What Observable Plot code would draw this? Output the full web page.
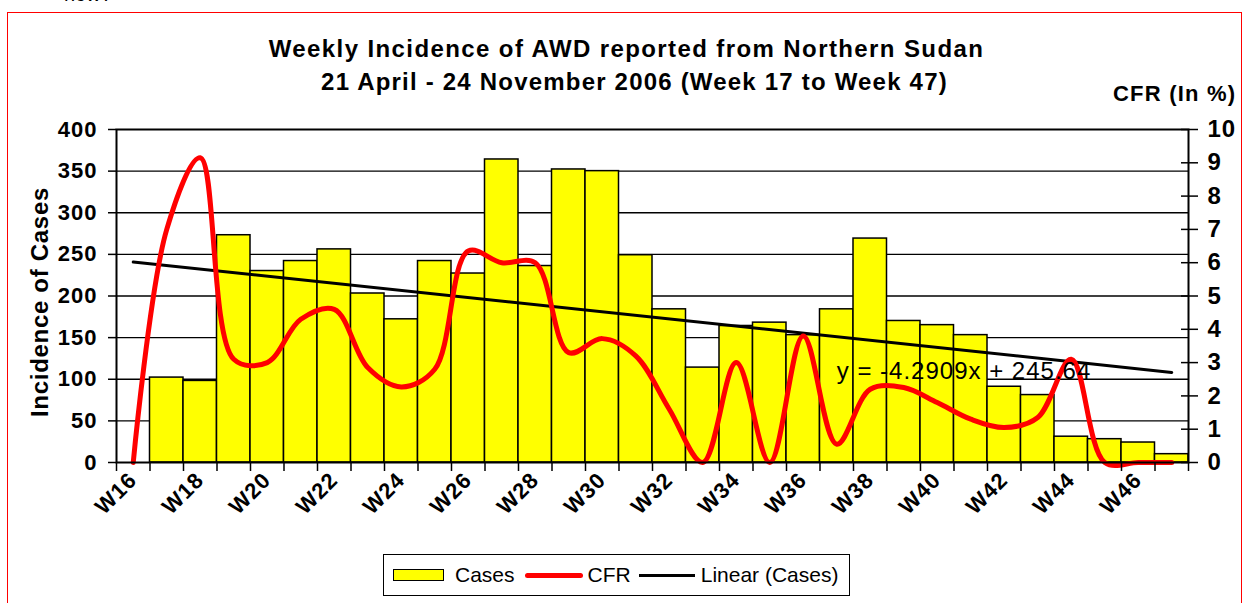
<!DOCTYPE html>
<html>
<head>
<meta charset="utf-8">
<script src="https://cdn.jsdelivr.net/npm/d3@7"></script>
<script src="https://cdn.jsdelivr.net/npm/@observablehq/plot@0.6"></script>
<style>
  html, body { margin: 0; padding: 0; background: #fff; }
  #page { position: relative; width: 1249px; height: 603px; overflow: hidden;
          font-family: "Liberation Sans", Arial, sans-serif; color: #000; }
  #frame { position: absolute; left: 7px; top: 12px; width: 1235px; height: 620px;
           border: 1.6px solid #ff0000; box-sizing: border-box; }
  #cut { position: absolute; left: 64px; top: -16px; font-size: 20px; line-height: 20px; }
  .title { position: absolute; left: 2px; width: 1249px; text-align: center; font-weight: bold;
           font-size: 24px; line-height: 24px; letter-spacing: 1.4px; white-space: nowrap; }
  #t1 { top: 37px; }
  #t2 { top: 70px; left: 10px; letter-spacing: 1.2px; }
  #cfrlabel { position: absolute; left: 1113px; top: 83px; font-weight: bold; font-size: 22px;
              line-height: 22px; letter-spacing: 1.2px; white-space: nowrap; }
  #ytitle { position: absolute; left: -110px; top: 290px; width: 300px; height: 24px; line-height: 24px;
            text-align: center; font-weight: bold; font-size: 24px; letter-spacing: 0.7px; white-space: nowrap;
            transform: rotate(-90deg); transform-origin: 150px 12px; }
  #chart { position: absolute; left: 0; top: 100px; }
  #chart svg text { letter-spacing: 1px; }
  #legend { position: absolute; left: 383px; top: 554px; width: 467px; height: 42px;
            box-sizing: border-box; border: 1.5px solid #000; display: flex; align-items: center;
            font-size: 21px; padding-left: 9px; white-space: nowrap; }
  .sw-bar { width: 51px; height: 12px; background: #ffff00; border: 1.5px solid #000; box-sizing: border-box; margin-right: 11px; }
  .sw-red { width: 58px; height: 5px; background: #ff0000; border-radius: 3px; margin: 0 5px 0 10px; }
  .sw-blk { width: 56px; height: 3px; background: #000; margin: 0 6px 0 8px; }
</style>
</head>
<body>
<div id="page">
  <div id="cut">now?</div>
  <div id="frame"></div>
  <div class="title" id="t1">Weekly Incidence of AWD reported from Northern Sudan</div>
  <div class="title" id="t2">21 April - 24 November 2006 (Week 17 to Week 47)</div>
  <div id="cfrlabel">CFR (In %)</div>
  <div id="chart"></div>
  <div id="ytitle"></div>
  <div id="legend">
    <div class="sw-bar"></div><span>Cases</span>
    <div class="sw-red"></div><span>CFR</span>
    <div class="sw-blk"></div><span>Linear (Cases)</span>
  </div>
</div>
<script>
// ---- data ----
const weeks = ["W16","W17","W18","W19","W20","W21","W22","W23","W24","W25","W26","W27","W28","W29","W30","W31",
               "W32","W33","W34","W35","W36","W37","W38","W39","W40","W41","W42","W43","W44","W45","W46","W47"];
const cases = [0, 102, 98, 273, 230, 242, 256, 203, 172, 242, 227, 364, 236, 352, 350, 249,
               184, 114, 164, 168, 153, 184, 269, 170, 165, 153, 91, 81, 31, 28, 24, 10];
const cfr   = [0, 7.0, 9.15, 3.1, 3.0, 4.3, 4.6, 2.85, 2.27, 2.8, 6.35, 6.0, 6.0, 3.3, 3.72, 3.2,
               1.6, 0.0, 3.0, 0.0, 3.8, 0.55, 2.2, 2.25, 1.8, 1.3, 1.05, 1.35, 3.1, 0.0, 0.0, 0.0];
const leftTicks  = [0, 50, 100, 150, 200, 250, 300, 350, 400];
const rightTicks = [0, 1, 2, 3, 4, 5, 6, 7, 8, 9, 10];
const labelWeeks = ["W16","W18","W20","W22","W24","W26","W28","W30","W32","W34","W36","W38","W40","W42","W44","W46"];
const equation = [{text: "y = -4.2909x + 245.64", week: 21.5, value: 110}];
const yTitle = "Incidence of Cases";

// right axis (CFR %) is mapped onto the left (cases) scale: 10% <-> 400 cases
const cfrScale = 400 / 10;

const rows = weeks.map((w, i) => ({week: w, i, pos: i + 0.5, cases: cases[i], cfr: cfr[i]}));
const font = {fontFamily: "Liberation Sans, Arial, sans-serif"};

document.getElementById("ytitle").textContent = yTitle;

const chart = Plot.plot({
  width: 1249,
  height: 450,
  marginLeft: 116,
  marginRight: 61,
  marginTop: 29,
  marginBottom: 88,
  x: {type: "linear", domain: [0, weeks.length]},
  y: {domain: [0, 400]},
  style: {fontFamily: "Liberation Sans, Arial, sans-serif", color: "#000", background: "transparent", overflow: "visible"},
  marks: [
    Plot.ruleY(leftTicks.filter(v => v > 0 && v < 400), {stroke: "#000", strokeWidth: 1.3}),
    Plot.rectY(rows.filter(d => d.cases > 0), {x1: "i", x2: d => d.i + 1, y: "cases", fill: "#ffff00", stroke: "#000", strokeWidth: 1.5}),
    Plot.linearRegressionY(rows, {x: "pos", y: "cases", stroke: "#000", strokeWidth: 3, ci: 0}),
    Plot.line(rows, {x: "pos", y: d => d.cfr * cfrScale, stroke: "#ff0000", strokeWidth: 5, curve: "catmull-rom", strokeLinecap: "round"}),
    Plot.frame({stroke: "#000", strokeWidth: 2}),
    Plot.text(equation, {x: "week", y: "value", text: "text", textAnchor: "start", fontSize: 24, ...font}),
    // left axis
    Plot.axisY({anchor: "left", ticks: leftTicks, tickSize: 8, tickPadding: 11, tickFormat: d => String(d),
                fontSize: 22, fontWeight: "bold", label: null, stroke: "#000", strokeWidth: 1.5}),
    // right axis (CFR)
    Plot.axisY({anchor: "right", ticks: rightTicks.map(v => v * cfrScale), tickSize: 17, dx: -8, tickPadding: 10,
                tickFormat: d => String(d / cfrScale), fontSize: 24, fontWeight: "bold", label: null,
                stroke: "#000", strokeWidth: 1.5, textAnchor: "start"}),
    // x boundary ticks
    Plot.axisX({ticks: d3.range(0, weeks.length + 1), tickSize: 9, tickFormat: () => "", label: null,
                stroke: "#000", strokeWidth: 1.5}),
    // x labels
    Plot.axisX({ticks: labelWeeks.map(w => weeks.indexOf(w) + 0.5), tickSize: 0, tickPadding: 14, tickRotate: -45,
                tickFormat: d => weeks[Math.floor(d)], fontSize: 22, fontWeight: "bold", label: null})
  ]
});
document.getElementById("chart").appendChild(chart);
</script>
</body>
</html>
